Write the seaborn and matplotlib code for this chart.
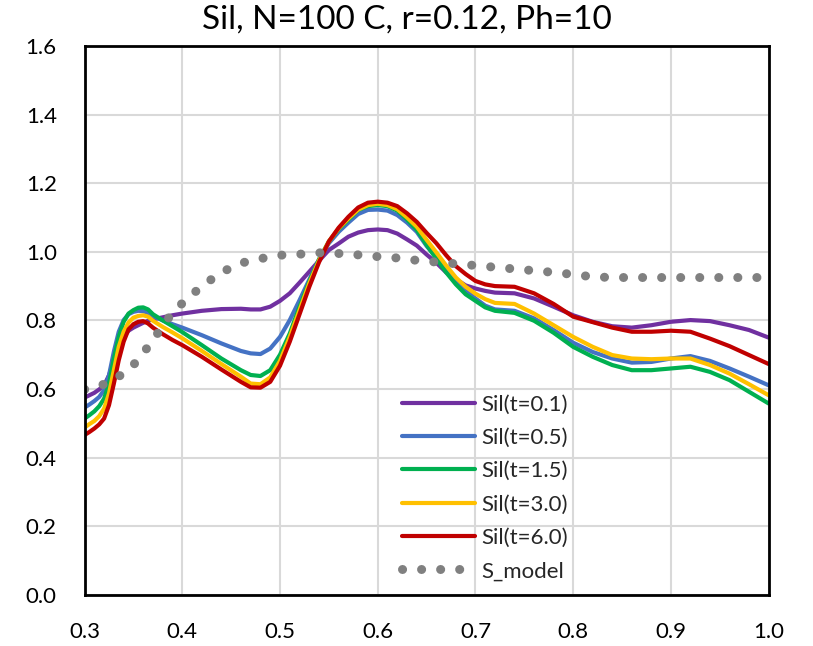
import numpy as np
import pandas as pd
import matplotlib
matplotlib.use("Agg")
import matplotlib.pyplot as plt
import seaborn as sns
from matplotlib.lines import Line2D

# ---------------- data ----------------
x_sil = [0.300, 0.305, 0.310, 0.315, 0.320, 0.325, 0.330, 0.335, 0.340, 0.345, 0.350, 0.355, 0.360,
         0.365, 0.370, 0.380, 0.390, 0.400, 0.420, 0.440, 0.460, 0.470, 0.480, 0.490, 0.500, 0.510,
         0.520, 0.530, 0.540, 0.550, 0.560, 0.570, 0.580, 0.590, 0.600, 0.610, 0.620, 0.630, 0.640,
         0.650, 0.660, 0.670, 0.680, 0.690, 0.700, 0.710, 0.720, 0.740, 0.760, 0.780, 0.800, 0.820,
         0.840, 0.860, 0.880, 0.900, 0.920, 0.940, 0.960, 0.980, 1.000]

sil_t01 = [0.575, 0.582, 0.589, 0.599, 0.611, 0.640, 0.684, 0.723, 0.752, 0.770, 0.779, 0.786, 0.793,
           0.799, 0.803, 0.809, 0.815, 0.820, 0.828, 0.833, 0.834, 0.832, 0.832, 0.840, 0.857, 0.879,
           0.910, 0.942, 0.974, 1.005, 1.024, 1.044, 1.056, 1.063, 1.065, 1.063, 1.053, 1.036, 1.018,
           0.992, 0.968, 0.940, 0.920, 0.902, 0.893, 0.886, 0.881, 0.879, 0.864, 0.840, 0.815, 0.796,
           0.783, 0.779, 0.786, 0.796, 0.801, 0.798, 0.786, 0.772, 0.750]
sil_t05 = [0.546, 0.555, 0.565, 0.577, 0.597, 0.640, 0.709, 0.767, 0.801, 0.818, 0.825, 0.828, 0.827,
           0.822, 0.813, 0.800, 0.789, 0.779, 0.757, 0.733, 0.711, 0.704, 0.702, 0.718, 0.752, 0.801,
           0.859, 0.919, 0.978, 1.025, 1.058, 1.085, 1.110, 1.122, 1.123, 1.120, 1.107, 1.085, 1.058,
           1.017, 0.983, 0.945, 0.913, 0.888, 0.864, 0.843, 0.832, 0.828, 0.806, 0.772, 0.735, 0.708,
           0.689, 0.677, 0.679, 0.689, 0.696, 0.682, 0.660, 0.636, 0.611]
sil_t15 = [0.514, 0.524, 0.535, 0.550, 0.572, 0.616, 0.689, 0.752, 0.796, 0.820, 0.830, 0.837, 0.838,
           0.832, 0.818, 0.800, 0.783, 0.766, 0.728, 0.689, 0.655, 0.641, 0.638, 0.655, 0.700, 0.762,
           0.840, 0.913, 0.978, 1.030, 1.066, 1.094, 1.122, 1.133, 1.136, 1.133, 1.120, 1.094, 1.064,
           1.020, 0.980, 0.940, 0.905, 0.876, 0.857, 0.838, 0.828, 0.822, 0.799, 0.764, 0.723, 0.694,
           0.670, 0.655, 0.655, 0.660, 0.665, 0.650, 0.626, 0.592, 0.558]
sil_t30 = [0.488, 0.498, 0.507, 0.521, 0.543, 0.587, 0.655, 0.723, 0.767, 0.794, 0.808, 0.813, 0.815,
           0.811, 0.799, 0.781, 0.765, 0.748, 0.711, 0.673, 0.636, 0.616, 0.614, 0.634, 0.682, 0.752,
           0.830, 0.908, 0.975, 1.030, 1.068, 1.097, 1.123, 1.136, 1.140, 1.136, 1.124, 1.100, 1.073,
           1.035, 0.998, 0.960, 0.925, 0.898, 0.878, 0.862, 0.851, 0.848, 0.820, 0.786, 0.752, 0.723,
           0.699, 0.689, 0.687, 0.689, 0.689, 0.670, 0.645, 0.614, 0.582]
sil_t60 = [0.466, 0.475, 0.485, 0.497, 0.514, 0.553, 0.616, 0.684, 0.738, 0.774, 0.789, 0.796, 0.798,
           0.791, 0.779, 0.760, 0.743, 0.728, 0.694, 0.657, 0.621, 0.605, 0.604, 0.621, 0.668, 0.738,
           0.818, 0.898, 0.970, 1.030, 1.070, 1.102, 1.129, 1.143, 1.146, 1.143, 1.133, 1.112, 1.087,
           1.055, 1.025, 0.990, 0.958, 0.935, 0.915, 0.905, 0.900, 0.898, 0.879, 0.848, 0.811, 0.795,
           0.779, 0.767, 0.767, 0.770, 0.767, 0.747, 0.725, 0.699, 0.673]

x_model = [0.30, 0.32, 0.34, 0.35, 0.36, 0.37, 0.38, 0.39, 0.40, 0.42, 0.44, 0.46, 0.48, 0.50, 0.52,
           0.54, 0.56, 0.58, 0.60, 0.62, 0.64, 0.66, 0.68, 0.70, 0.72, 0.74, 0.76, 0.78, 0.80, 0.82,
           0.84, 0.86, 0.88, 0.90, 0.92, 0.94, 0.96, 0.98, 1.00]
s_model = [0.599, 0.614, 0.645, 0.670, 0.705, 0.742, 0.785, 0.822, 0.850, 0.900, 0.940, 0.967, 0.980, 0.990, 0.993,
           0.997, 0.995, 0.991, 0.986, 0.982, 0.975, 0.970, 0.965, 0.960, 0.955, 0.950, 0.945, 0.940, 0.934, 0.927,
           0.925, 0.925, 0.925, 0.925, 0.925, 0.925, 0.925, 0.925, 0.925]

series_labels = ["Sil(t=0.1)", "Sil(t=0.5)", "Sil(t=1.5)", "Sil(t=3.0)", "Sil(t=6.0)"]
series_values = [sil_t01, sil_t05, sil_t15, sil_t30, sil_t60]
series_colors = ["#7030A0", "#4472C4", "#00B050", "#FFC000", "#C00000"]
model_label = "S_model"
model_color = "#808080"

title = "Sil, N=100 C, r=0.12, Ph=10"
x_ticks = [0.3, 0.4, 0.5, 0.6, 0.7, 0.8, 0.9, 1.0]
y_ticks = [0.0, 0.2, 0.4, 0.6, 0.8, 1.0, 1.2, 1.4, 1.6]

# ---------------- style ----------------
sns.set_theme(style="whitegrid")
plt.rcParams["font.family"] = ["Lato", "DejaVu Sans"]

fig = plt.figure(figsize=(8.13, 6.46), dpi=100)
ax = fig.add_axes([0.104, 0.079, 0.8414, 0.850])

df = pd.DataFrame({"x": x_sil})
for lab, vals in zip(series_labels, series_values):
    df[lab] = vals
long = df.melt(id_vars="x", var_name="series", value_name="y")

sns.lineplot(data=long, x="x", y="y", hue="series", hue_order=series_labels,
             palette=dict(zip(series_labels, series_colors)), linewidth=3.0,
             solid_joinstyle="round", solid_capstyle="round",
             ax=ax, legend=False, sort=False)

mdf = pd.DataFrame({"x": x_model, "y": s_model})
sns.lineplot(data=mdf, x="x", y="y", color=model_color, linewidth=6.5,
             linestyle=(0, (0.01, 2.1)), dash_capstyle="round",
             ax=ax, legend=False, sort=False)

ax.set_xlim(0.3, 1.0)
ax.set_ylim(0.0, 1.6)
ax.set_xticks(x_ticks)
ax.set_xticklabels([f"{v:.1f}" for v in x_ticks])
ax.set_yticks(y_ticks)
ax.set_yticklabels([f"{v:.1f}" for v in y_ticks])
ax.set_xlabel("")
ax.set_ylabel("")
ax.grid(True, color="#D9D9D9", linewidth=1.5)
ax.set_axisbelow(True)
for sp in ax.spines.values():
    sp.set_color("black")
    sp.set_linewidth(2.0)
ax.tick_params(axis="both", length=0, labelsize=16, colors="black")
ax.tick_params(axis="x", pad=19.5)
ax.tick_params(axis="y", pad=20)

fig.suptitle(title, x=0.5, y=0.969, va="center", fontsize=24, color="black")

handles = [Line2D([], [], color=c, linewidth=3.0) for c in series_colors]
handles.append(Line2D([], [], color=model_color, linewidth=6.5,
                      linestyle=(0, (0.01, 2.1)), dash_capstyle="round"))
labels = series_labels + [model_label]
ax.legend(handles, labels, loc="center left", bbox_to_anchor=(0.4636, 0.195),
          frameon=False, fontsize=16, handlelength=3.3, handletextpad=0.3,
          labelspacing=0.6, borderpad=0, borderaxespad=0)

fig.savefig("out.png", dpi=100)
